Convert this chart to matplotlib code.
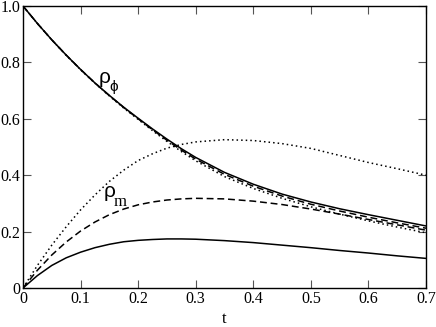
import matplotlib
matplotlib.use("Agg")
import matplotlib.pyplot as plt

t = [0, 0.025, 0.05, 0.075, 0.1, 0.125, 0.15, 0.175, 0.2, 0.225, 0.25, 0.275, 0.3,
     0.35, 0.4, 0.45, 0.5, 0.55, 0.6, 0.65, 0.7]

phi_solid = [1.0, 0.938, 0.880, 0.826, 0.775, 0.727, 0.683, 0.641, 0.602, 0.564, 0.528, 0.494, 0.463,
             0.410, 0.368, 0.333, 0.305, 0.281, 0.260, 0.240, 0.220]
phi_dashed = [1.0, 0.938, 0.880, 0.826, 0.775, 0.727, 0.682, 0.640, 0.600, 0.561, 0.524, 0.489, 0.457,
              0.403, 0.361, 0.326, 0.297, 0.273, 0.251, 0.231, 0.212]
phi_dotted = [1.0, 0.938, 0.880, 0.825, 0.774, 0.726, 0.681, 0.638, 0.598, 0.558, 0.520, 0.484, 0.451,
              0.395, 0.353, 0.318, 0.288, 0.262, 0.238, 0.216, 0.196]

m_solid = [0, 0.044, 0.080, 0.107, 0.127, 0.143, 0.155, 0.164, 0.169, 0.172, 0.174, 0.174, 0.173,
           0.168, 0.161, 0.152, 0.143, 0.133, 0.124, 0.114, 0.105]
m_dashed = [0, 0.063, 0.117, 0.163, 0.202, 0.234, 0.260, 0.280, 0.295, 0.305, 0.312, 0.316, 0.318,
            0.316, 0.308, 0.296, 0.280, 0.262, 0.243, 0.224, 0.205]
m_dotted = [0, 0.080, 0.152, 0.217, 0.277, 0.330, 0.378, 0.418, 0.452, 0.476, 0.496, 0.509, 0.518,
            0.526, 0.523, 0.512, 0.495, 0.470, 0.445, 0.423, 0.400]

xticks = [0, 0.1, 0.2, 0.3, 0.4, 0.5, 0.6, 0.7]
xticklabels = ["0", "0.1", "0.2", "0.3", "0.4", "0.5", "0.6", "0.7"]
yticks = [0, 0.2, 0.4, 0.6, 0.8, 1.0]
yticklabels = ["0", "0.2", "0.4", "0.6", "0.8", "1.0"]

plt.rcParams['font.family'] = ['Liberation Serif', 'DejaVu Serif']

fig = plt.figure(figsize=(4.36, 3.27), dpi=100)
ax = fig.add_axes([23/436, 39/327, 403/436, 282/327])

lw = 1.1
ax.plot(t, phi_solid, color='black', lw=lw, ls='-')
ax.plot(t, phi_dashed, color='black', lw=lw, ls=(0, (4.5, 2.5)))
ax.plot(t, phi_dotted, color='black', lw=lw, ls=(0, (1, 2)))
ax.plot(t, m_solid, color='black', lw=lw, ls='-')
ax.plot(t, m_dashed, color='black', lw=lw, ls=(0, (4.5, 2.5)))
ax.plot(t, m_dotted, color='black', lw=lw, ls=(0, (1, 2)))

ax.set_xlim(0, 0.7)
ax.set_ylim(0, 1.0)
ax.set_xticks(xticks)
ax.set_xticklabels(xticklabels)
ax.set_yticks(yticks)
ax.set_yticklabels(yticklabels)
ax.tick_params(direction='in', length=6, width=0.8, labelsize=11.5,
               top=True, right=True, pad=2, color='#555555')
for s in ax.spines.values():
    s.set_linewidth(1.0)

ax.set_xlabel('t', fontsize=12, labelpad=3)

sans = ['Liberation Sans', 'DejaVu Sans']
ax.text(0.132, 0.727, 'ρ', fontsize=15, family=sans, ha='left', va='baseline')
ax.text(0.150, 0.700, 'ϕ', fontsize=11, family=sans, ha='left', va='baseline')
ax.text(0.140, 0.324, 'ρ', fontsize=15, family=sans, ha='left', va='baseline')
ax.text(0.158, 0.292, 'm', fontsize=12, ha='left', va='baseline')

fig.savefig('out.png', dpi=100)
